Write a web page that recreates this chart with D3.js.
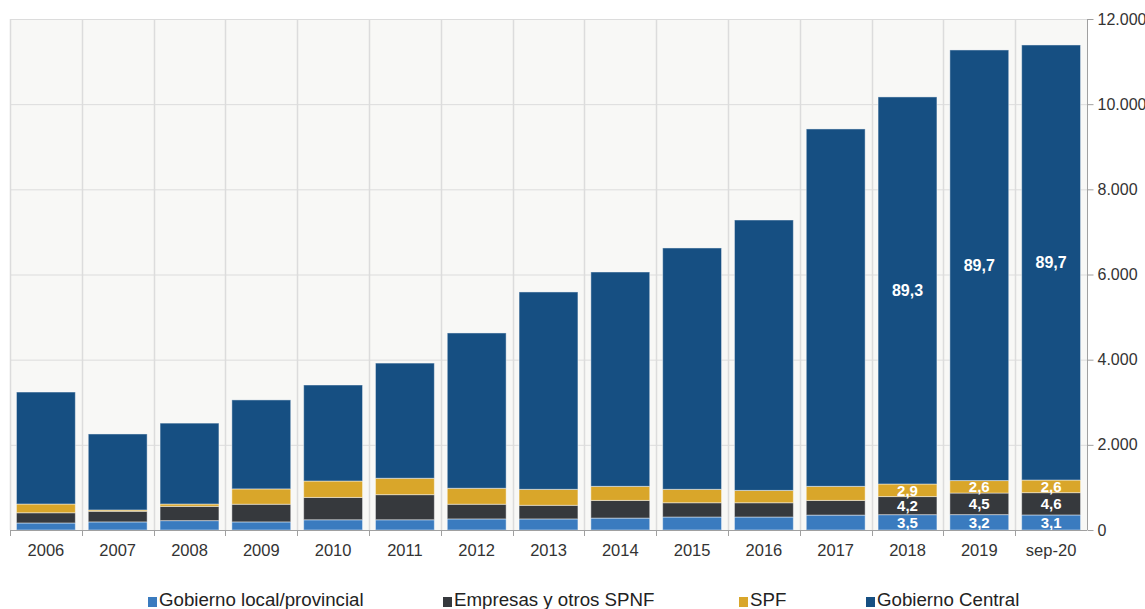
<!DOCTYPE html>
<html>
<head>
<meta charset="utf-8">
<script src="https://cdn.jsdelivr.net/npm/d3@7"></script>
<style>
  html, body { margin: 0; padding: 0; background: #ffffff; }
  svg { display: block; font-family: "Liberation Sans", Arial, sans-serif; }
</style>
</head>
<body>
<div id="chart"></div>
<script>
// Categories (x axis)
const categories = ["2006", "2007", "2008", "2009", "2010", "2011", "2012", "2013",
                    "2014", "2015", "2016", "2017", "2018", "2019", "sep-20"];

// Series values (millions)
const gobiernoLocal = [165, 190, 220, 190, 240, 240, 260, 260, 280, 305, 305, 350, 360, 361, 353];
const empresas      = [240, 250, 335, 415, 525, 590, 345, 320, 415, 335, 335, 345, 425, 507, 524];
const spf           = [205, 30, 55, 360, 385, 385, 375, 375, 330, 315, 290, 330, 295, 293, 296];
const central       = [2630, 1785, 1900, 2090, 2255, 2705, 3647, 4635, 5034, 5668, 6350, 8393, 9090, 10112, 10217];

// Share labels (%), only shown for the last three bars
const labelLocal    = [null, null, null, null, null, null, null, null, null, null, null, null, "3,5", "3,2", "3,1"];
const labelEmpresas = [null, null, null, null, null, null, null, null, null, null, null, null, "4,2", "4,5", "4,6"];
const labelSpf      = [null, null, null, null, null, null, null, null, null, null, null, null, "2,9", "2,6", "2,6"];
const labelCentral  = [null, null, null, null, null, null, null, null, null, null, null, null, "89,3", "89,7", "89,7"];

const yTicks = [0, 2000, 4000, 6000, 8000, 10000, 12000];

const seriesNames = ["Gobierno local/provincial", "Empresas y otros SPNF", "SPF", "Gobierno Central"];
const seriesColors = ["#3a7bbf", "#36393d", "#d9a62a", "#164f82"];

// Build the table for d3.stack
const table = categories.map((c, i) => ({
  cat: c,
  s0: gobiernoLocal[i], s1: empresas[i], s2: spf[i], s3: central[i]
}));
const labelArrays = [labelLocal, labelEmpresas, labelSpf, labelCentral];

const width = 1145, height = 609;
const plotLeft = 10, plotRight = 1087, plotTop = 19, plotBottom = 530;

const svg = d3.select('#chart').append('svg')
  .attr('width', width)
  .attr('height', height);

const x = d3.scaleBand()
  .domain(categories)
  .range([plotLeft, plotRight])
  .paddingInner(0.18)
  .paddingOuter(0.09);

const y = d3.scaleLinear()
  .domain([0, 12000])
  .range([plotBottom, plotTop]);

const step = x.step();
const boundary = c => x(c) - step * 0.09;

// Plot background
svg.append('rect')
  .attr('x', plotLeft).attr('y', plotTop)
  .attr('width', plotRight - plotLeft).attr('height', plotBottom - plotTop)
  .attr('fill', '#f8f8f6');

// Horizontal gridlines
svg.append('g').selectAll('line')
  .data(yTicks)
  .enter().append('line')
  .attr('x1', plotLeft).attr('x2', plotRight)
  .attr('y1', d => y(d) + 0.5).attr('y2', d => y(d) + 0.5)
  .attr('stroke', '#dcdcdc')
  .attr('stroke-width', 1);

// Vertical gridlines at category boundaries
svg.append('g').selectAll('line')
  .data(categories)
  .enter().append('line')
  .attr('x1', d => Math.round(boundary(d)) + 0.5)
  .attr('x2', d => Math.round(boundary(d)) + 0.5)
  .attr('y1', plotTop).attr('y2', plotBottom)
  .attr('stroke', '#dcdcdc')
  .attr('stroke-width', 1.5);

// Stacked bars
const stack = d3.stack().keys(["s0", "s1", "s2", "s3"]);
const layers = stack(table);

const layerG = svg.append('g').selectAll('g')
  .data(layers)
  .enter().append('g')
  .attr('fill', (d, i) => seriesColors[i]);

layerG.selectAll('rect')
  .data(d => d)
  .enter().append('rect')
  .attr('x', d => x(d.data.cat))
  .attr('width', x.bandwidth())
  .attr('y', d => y(d[1]))
  .attr('height', d => y(d[0]) - y(d[1]))
  .attr('stroke', 'rgba(255,255,255,0.45)')
  .attr('stroke-width', 1);

// Value labels
layers.forEach((layer, li) => {
  svg.append('g').selectAll('text')
    .data(layer.filter((d, i) => labelArrays[li][i] !== null))
    .enter().append('text')
    .attr('x', d => x(d.data.cat) + x.bandwidth() / 2)
    .attr('y', d => (y(d[0]) + y(d[1])) / 2)
    .attr('dy', '0.36em')
    .attr('text-anchor', 'middle')
    .attr('fill', '#ffffff')
    .attr('font-weight', 'bold')
    .attr('font-size', li === 3 ? '16px' : '15px')
    .text(d => labelArrays[li][categories.indexOf(d.data.cat)]);
});

// Right y axis
const fmt = d3.formatLocale({ decimal: ",", thousands: ".", grouping: [3], currency: ["", ""] }).format(",.0f");
const yAxis = d3.axisRight(y)
  .tickValues(yTicks)
  .tickSize(6)
  .tickPadding(4)
  .tickFormat(fmt);

const yG = svg.append('g')
  .attr('transform', `translate(${plotRight + 0.5},0)`)
  .call(yAxis);
yG.select('.domain').attr('stroke', '#a0a0a0').attr('d', `M0,${plotTop}V${plotBottom}`);
yG.selectAll('.tick line').attr('stroke', '#a0a0a0');
yG.selectAll('.tick text')
  .attr('fill', '#333333')
  .attr('font-size', '16px')
  .attr('font-family', '"Liberation Sans", Arial, sans-serif');

// Bottom axis line with ticks at category boundaries
svg.append('line')
  .attr('x1', plotLeft).attr('x2', plotRight)
  .attr('y1', plotBottom + 0.5).attr('y2', plotBottom + 0.5)
  .attr('stroke', '#a0a0a0');

svg.append('g').selectAll('line')
  .data(categories)
  .enter().append('line')
  .attr('x1', d => Math.round(boundary(d)) + 0.5)
  .attr('x2', d => Math.round(boundary(d)) + 0.5)
  .attr('y1', plotBottom).attr('y2', plotBottom + 6)
  .attr('stroke', '#a0a0a0');

svg.append('g').selectAll('text')
  .data(categories)
  .enter().append('text')
  .attr('x', d => x(d) + x.bandwidth() / 2)
  .attr('y', 556)
  .attr('text-anchor', 'middle')
  .attr('fill', '#333333')
  .attr('font-size', '16.5px')
  .text(d => d);

// Legend
const legendX = [148, 443, 739, 866];
const legend = svg.append('g').selectAll('g')
  .data(seriesNames)
  .enter().append('g')
  .attr('transform', (d, i) => `translate(${legendX[i]},0)`);

legend.append('rect')
  .attr('x', 0).attr('y', 597)
  .attr('width', 9).attr('height', 10)
  .attr('fill', (d, i) => seriesColors[i]);

legend.append('text')
  .attr('x', 11)
  .attr('y', 606)
  .attr('fill', '#222222')
  .attr('font-size', '18.7px')
  .text(d => d);
</script>
</body>
</html>
